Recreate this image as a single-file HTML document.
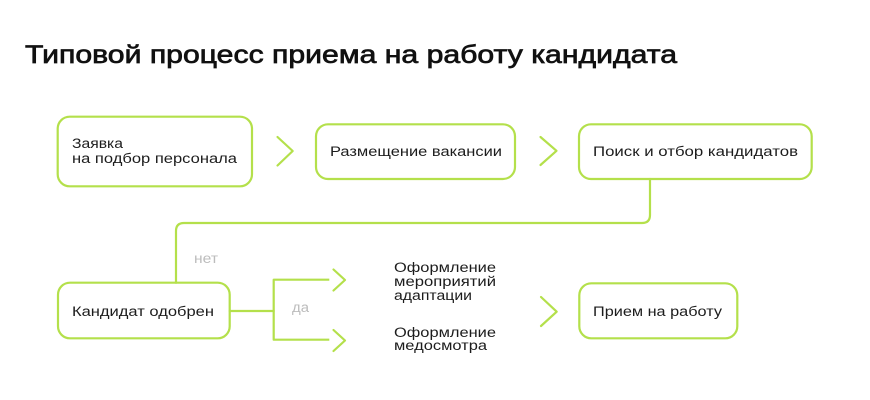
<!DOCTYPE html>
<html>
<head>
<meta charset="utf-8">
<style>
  html, body { margin: 0; padding: 0; background: #ffffff; }
  body { width: 870px; height: 400px; overflow: hidden; }
  svg { display: block; }
  text { font-family: "Liberation Sans", "DejaVu Sans", sans-serif; }
  .t { font-size: 13.5px; fill: #1c1c1c; }
  .g { font-size: 13.5px; fill: #bcbcbc; }
  .ttl { font-size: 25px; font-weight: normal; fill: #111111; stroke: #111111; stroke-width: 0.7px; }
</style>
</head>
<body>
<svg width="870" height="400" viewBox="0 0 870 400" xmlns="http://www.w3.org/2000/svg">
  <text class="ttl" x="25" y="63" textLength="652" lengthAdjust="spacingAndGlyphs">Типовой процесс приема на работу кандидата</text>

  <g fill="none" stroke="#b4e04b" stroke-width="2.2" stroke-linecap="round" stroke-linejoin="round">
    <!-- boxes -->
    <rect x="57.7" y="116.7" width="194.3" height="69.6" rx="12"/>
    <rect x="316" y="124.3" width="199" height="54.7" rx="12"/>
    <rect x="579" y="124.3" width="232.7" height="54.7" rx="12"/>
    <rect x="58" y="282.7" width="171.7" height="55.6" rx="12"/>
    <rect x="579.3" y="283.3" width="158" height="55" rx="12"/>

    <!-- chevrons -->
    <polyline points="277.5,137 292.7,151 277.5,165.5"/>
    <polyline points="540.5,137 556.5,150.8 540.5,165"/>
    <polyline points="541,297 556.7,311.7 541,326"/>
    <polyline points="333.5,269.5 345,280 333.5,290.5"/>
    <polyline points="333.5,330 345,340.5 333.5,351"/>

    <!-- connector from search to candidate -->
    <path d="M650 179 V215 Q650 223 642 223 H184 Q176 223 176 231 V282.7"/>

    <!-- branches -->
    <path d="M229.7 311 H273.7"/>
    <path d="M329.3 279.7 H273.7 V339.7 H329.3" stroke-linecap="butt"/>
  </g>

  <text class="t" x="72" y="148" textLength="51" lengthAdjust="spacingAndGlyphs">Заявка</text>
  <text class="t" x="72" y="163" textLength="165" lengthAdjust="spacingAndGlyphs">на подбор персонала</text>
  <text class="t" x="330" y="156" textLength="172" lengthAdjust="spacingAndGlyphs">Размещение вакансии</text>
  <text class="t" x="593" y="156" textLength="205" lengthAdjust="spacingAndGlyphs">Поиск и отбор кандидатов</text>
  <text class="t" x="72" y="316" textLength="142" lengthAdjust="spacingAndGlyphs">Кандидат одобрен</text>
  <text class="t" x="593" y="316" textLength="129" lengthAdjust="spacingAndGlyphs">Прием на работу</text>

  <text class="g" x="194" y="263" textLength="24" lengthAdjust="spacingAndGlyphs">нет</text>
  <text class="g" x="292" y="312" textLength="17" lengthAdjust="spacingAndGlyphs">да</text>

  <text class="t" x="394" y="272" textLength="102" lengthAdjust="spacingAndGlyphs">Оформление</text>
  <text class="t" x="394" y="286" textLength="102" lengthAdjust="spacingAndGlyphs">мероприятий</text>
  <text class="t" x="394" y="300" textLength="78" lengthAdjust="spacingAndGlyphs">адаптации</text>
  <text class="t" x="394" y="337" textLength="102" lengthAdjust="spacingAndGlyphs">Оформление</text>
  <text class="t" x="394" y="350" textLength="93" lengthAdjust="spacingAndGlyphs">медосмотра</text>
</svg>
</body>
</html>
